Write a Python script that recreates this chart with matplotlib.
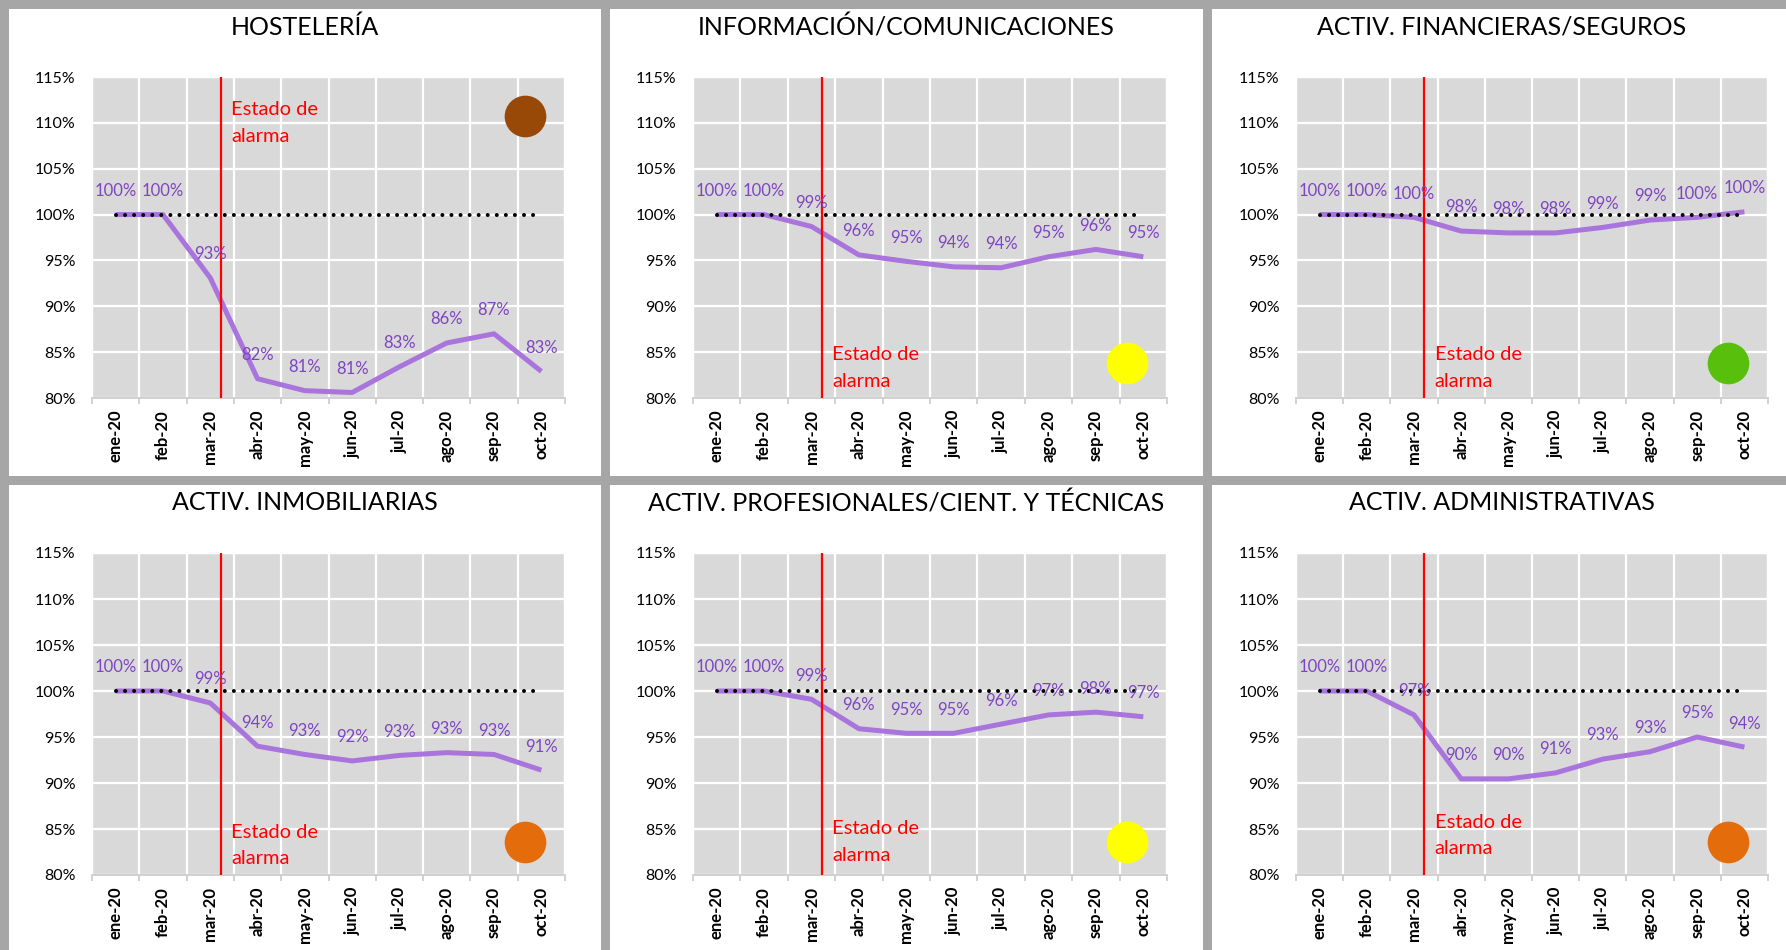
import numpy as np
import matplotlib
matplotlib.use("Agg")
import matplotlib.pyplot as plt
from matplotlib.patches import Rectangle

plt.rcParams['font.family'] = ['Lato', 'DejaVu Sans']

# ---------------- data ----------------
meses = ['ene-20', 'feb-20', 'mar-20', 'abr-20', 'may-20', 'jun-20',
         'jul-20', 'ago-20', 'sep-20', 'oct-20']

titulos = ['HOSTELERÍA', 'INFORMACIÓN/COMUNICACIONES', 'ACTIV. FINANCIERAS/SEGUROS',
           'ACTIV. INMOBILIARIAS', 'ACTIV. PROFESIONALES/CIENT. Y TÉCNICAS',
           'ACTIV. ADMINISTRATIVAS']

hosteleria      = [100, 100, 93.1, 82.1, 80.8, 80.6, 83.4, 86.0, 87.0, 82.9]
informacion     = [100, 100, 98.7, 95.6, 94.9, 94.3, 94.2, 95.4, 96.2, 95.4]
financieras     = [100, 100, 99.7, 98.2, 98.0, 98.0, 98.6, 99.4, 99.7, 100.3]
inmobiliarias   = [100, 100, 98.7, 94.0, 93.1, 92.4, 93.0, 93.3, 93.1, 91.4]
profesionales   = [100, 100, 99.1, 95.9, 95.4, 95.4, 96.4, 97.4, 97.7, 97.2]
administrativas = [100, 100, 97.4, 90.45, 90.45, 91.1, 92.6, 93.4, 95.0, 93.9]

series = [hosteleria, informacion, financieras, inmobiliarias, profesionales, administrativas]

referencia = 100          # nivel de referencia (enero = 100%)
pos_alarma = 2.22         # posición del estado de alarma (mediados de marzo)
semaforo = ['#984807', '#FFFF00', '#58C00D', '#E46C0A', '#FFFF00', '#E46C0A']
semaforo_y = [110.75, 83.8, 83.8, 83.6, 83.6, 83.6]
texto_alarma_y = [110.0, 83.3, 83.3, 83.2, 83.6, 84.3]

# ---------------- layout (pixels) ----------------
W, H = 1786, 950
fig = plt.figure(figsize=(W / 100, H / 100), dpi=100, facecolor='#A6A6A6')

panel_x = [(9, 601), (610, 1203), (1212, 1786)]
panel_y = [(9, 476), (485, 950)]
plot_x = [(92, 565), (693, 1167), (1296, 1768)]
plot_y = [(77, 398), (553, 875)]
title_y = [27, 503]
title_x = [305, 906, 1502]

LINE = '#A974DB'
LABEL = '#7E45C0'

x = np.arange(len(meses))

for i, (titulo, vals) in enumerate(zip(titulos, series)):
    r, c = divmod(i, 3)
    x0, x1 = panel_x[c]
    y0, y1 = panel_y[r]
    fig.patches.append(Rectangle((x0 / W, 1 - y1 / H), (x1 - x0) / W, (y1 - y0) / H,
                                 transform=fig.transFigure, facecolor='white',
                                 edgecolor='none', zorder=-5))
    px0, px1 = plot_x[c]
    py0, py1 = plot_y[r]
    ax = fig.add_axes([px0 / W, 1 - py1 / H, (px1 - px0) / W, (py1 - py0) / H])
    ax.set_facecolor('#D9D9D9')

    ax.plot(x, vals, color=LINE, lw=3.6, solid_joinstyle='round',
            solid_capstyle='butt', zorder=3)
    ax.plot(x, [referencia] * len(meses), color='black', lw=2.9,
            linestyle=(0, (0.001, 2.25)), dash_capstyle='round', zorder=4)
    for xi, v in zip(x, vals):
        ax.annotate(f'{v:.0f}%', (xi, v), xytext=(0, 17), textcoords='offset points',
                    ha='center', va='center', color=LABEL, fontsize=12, zorder=7)

    ax.axvline(pos_alarma, color='#FF0000', lw=1.6, zorder=5)
    ax.text(pos_alarma + 0.22, texto_alarma_y[i], 'Estado de\nalarma', color='#FF0000',
            fontsize=14.5, ha='left', va='center', linespacing=1.7, zorder=6)

    ax.scatter([8.65], [semaforo_y[i]], s=900, color=semaforo[i], linewidths=0,
               zorder=8, clip_on=False)

    ax.set_xlim(-0.5, 9.5)
    ax.set_ylim(80, 115)
    ax.set_yticks(np.arange(80, 116, 5))
    ax.yaxis.set_major_formatter(lambda v, p: f'{v:.0f}%')
    ax.set_xticks(x)
    ax.set_xticklabels(meses, rotation=90, fontweight='bold', fontsize=12)
    ax.set_xticks(np.arange(-0.5, 10, 1), minor=True)
    ax.grid(which='minor', axis='x', color='white', lw=1.6)
    ax.grid(which='major', axis='y', color='white', lw=1.6)
    ax.set_axisbelow(True)
    ax.tick_params(axis='x', which='major', length=0, pad=8.5)
    ax.tick_params(axis='x', which='minor', length=4, width=1.4, color='#D0D0D0')
    ax.tick_params(axis='y', length=0, pad=12, labelsize=11.5)
    for s in ['left', 'right', 'top']:
        ax.spines[s].set_color('white')
        ax.spines[s].set_linewidth(1.6)
    ax.spines['bottom'].set_color('#D0D0D0')
    ax.spines['bottom'].set_linewidth(1.4)

    fig.text(title_x[c] / W, 1 - title_y[r] / H, titulo, ha='center', va='center',
             fontsize=18, color='black')

fig.savefig('out.png', dpi=100, facecolor=fig.get_facecolor())
